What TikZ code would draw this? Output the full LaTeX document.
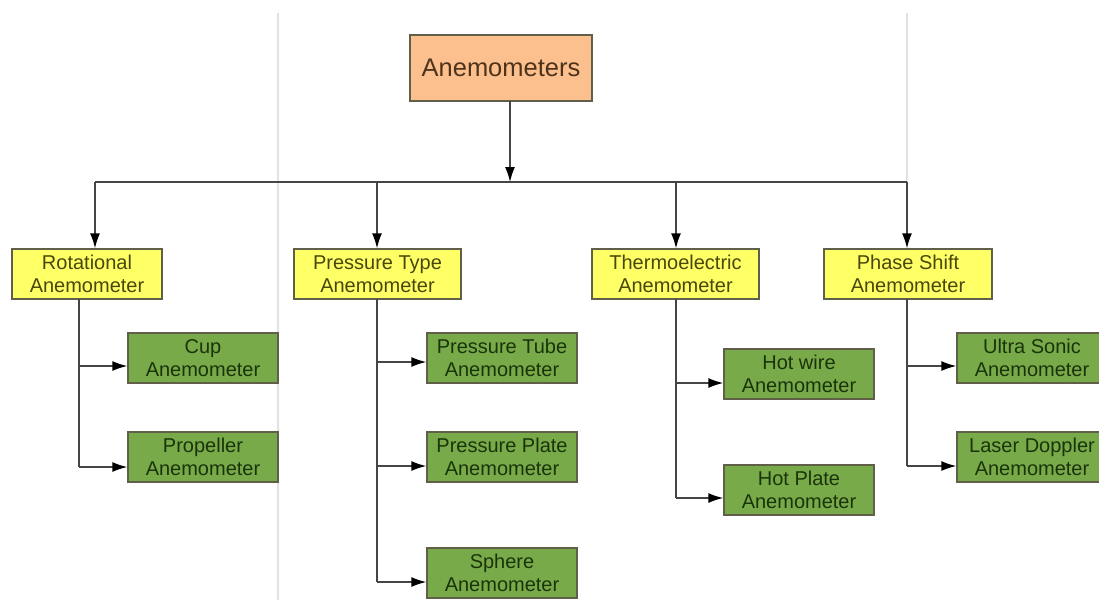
\documentclass[tikz,border=0pt]{standalone}
\usepackage{fontspec}
\setmainfont{Liberation Sans}
\usetikzlibrary{arrows.meta}
\definecolor{rootfill}{HTML}{FBC08E}
\definecolor{roottext}{HTML}{4E321A}
\definecolor{yfill}{HTML}{FFFF66}
\definecolor{ytext}{HTML}{4A470C}
\definecolor{gfill}{HTML}{79AA4A}
\definecolor{gtext}{HTML}{1A340A}
\definecolor{boxline}{HTML}{5F5F4A}
\definecolor{conn}{HTML}{454545}
\definecolor{faint}{HTML}{E2E2E2}
\tikzset{
  rootbox/.style={draw=boxline, line width=1.4pt, fill=rootfill, text=roottext,
    minimum width=182pt, minimum height=66pt, inner sep=0pt,
    font=\fontsize{25.5}{29}\selectfont},
  ybox/.style={draw=boxline, line width=1.4pt, fill=yfill, text=ytext,
    minimum height=50pt, inner sep=0pt, align=center,
    font=\fontsize{20}{23}\selectfont},
  gbox/.style={draw=boxline, line width=1.4pt, fill=gfill, text=gtext,
    minimum width=150pt, minimum height=50pt, inner sep=0pt, align=center,
    font=\fontsize{20}{23}\selectfont},
  conline/.style={draw=conn, line width=1.4pt},
  arr/.style={conline, -{Latex[length=15pt,width=10pt,color=black]}},
  faintline/.style={draw=faint, line width=1.6pt}
}
\begin{document}
\begin{tikzpicture}[x={(1pt,0pt)}, y={(0pt,-1pt)}]
\path[use as bounding box, fill=white] (0,0) rectangle (1099,600);
\clip (0,0) rectangle (1099,600);
% faint page borders
\draw[faintline] (278,13) -- (278,600);
\draw[faintline] (907,13) -- (907,182);
% root
\node[rootbox] (root) at (501,68) {Anemometers};
% level 1
\node[ybox, minimum width=150pt] (rot) at (87,274) {Rotational\\Anemometer};
\node[ybox, minimum width=167pt] (pre) at (377.5,274) {Pressure Type\\Anemometer};
\node[ybox, minimum width=167pt] (the) at (675.5,274) {Thermoelectric\\Anemometer};
\node[ybox, minimum width=168pt] (pha) at (908,274) {Phase Shift\\Anemometer};
% level 2
\node[gbox] (cup) at (203,358) {Cup\\Anemometer};
\node[gbox] (prop) at (203,457) {Propeller\\Anemometer};
\node[gbox] (tube) at (502,358) {Pressure Tube\\Anemometer};
\node[gbox] (plate) at (502,457) {Pressure Plate\\Anemometer};
\node[gbox] (sph) at (502,573) {Sphere\\Anemometer};
\node[gbox] (wire) at (799,374) {Hot wire\\Anemometer};
\node[gbox] (hplate) at (799,490) {Hot Plate\\Anemometer};
\node[gbox] (ultra) at (1032,358) {Ultra Sonic\\Anemometer};
\node[gbox] (laser) at (1032,457) {Laser Doppler\\Anemometer};
% bus
\coordinate (rootout) at (510,101);
\coordinate (bus) at (510,182);
\draw[arr] (rootout) -- (bus);
\draw[conline] (95,182) -- (907,182);
\coordinate (b1) at (95,182);
\coordinate (b2) at (377,182);
\coordinate (b3) at (676,182);
\coordinate (b4) at (907,182);
\draw[arr] (b1) -- (b1 |- rot.north);
\draw[arr] (b2) -- (b2 |- pre.north);
\draw[arr] (b3) -- (b3 |- the.north);
\draw[arr] (b4) -- (b4 |- pha.north);
% trunks
\coordinate (t1) at (79,299);
\coordinate (t2) at (377,299);
\coordinate (t3) at (676,299);
\coordinate (t4) at (907,299);
\draw[conline] (t1) -- (79,467);
\draw[conline] (t2) -- (377,582);
\draw[conline] (t3) -- (676,498);
\draw[conline] (t4) -- (907,466);
\draw[arr] (79,366) -- (cup.west |- 0,366);
\draw[arr] (79,467) -- (prop.west |- 0,467);
\draw[arr] (377,362) -- (tube.west |- 0,362);
\draw[arr] (377,466) -- (plate.west |- 0,466);
\draw[arr] (377,582) -- (sph.west |- 0,582);
\draw[arr] (676,383) -- (wire.west |- 0,383);
\draw[arr] (676,498) -- (hplate.west |- 0,498);
\draw[arr] (907,366) -- (ultra.west |- 0,366);
\draw[arr] (907,466) -- (laser.west |- 0,466);
\end{tikzpicture}
\end{document}
